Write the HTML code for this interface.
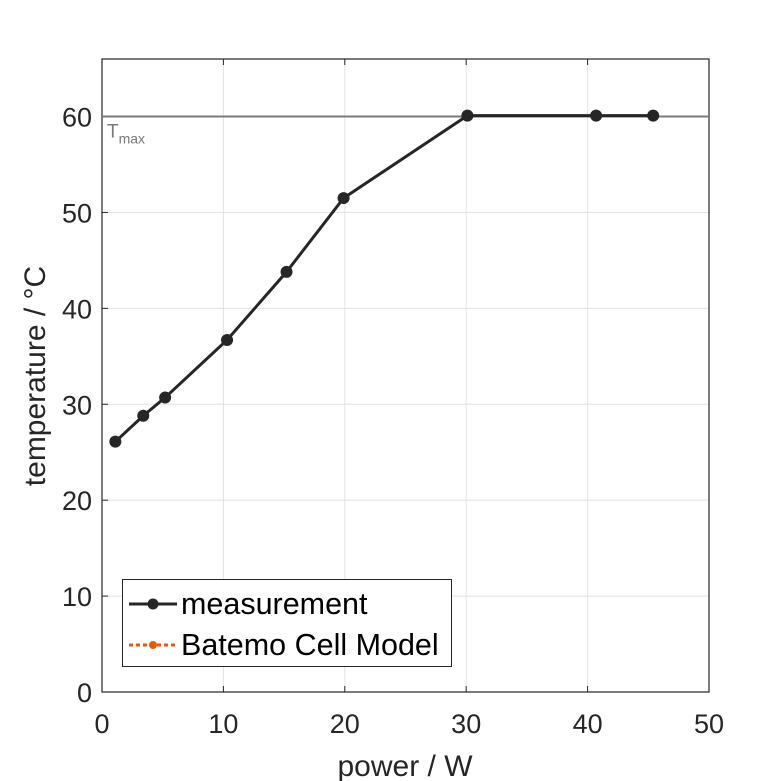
<!DOCTYPE html>
<html><head><meta charset="utf-8"><style>
body{margin:0;background:#fff}
svg{display:block;font-family:"Liberation Sans",sans-serif}
</style></head><body>
<svg id="chart" width="781" height="781" viewBox="0 0 781 781">
<g id="grid"></g>
<g id="axes"></g>
<g id="series"></g>
<text x="405" y="776" font-size="30" text-anchor="middle" fill="#262626">power / W</text>
<text transform="translate(45,376) rotate(-90)" font-size="30" text-anchor="middle" fill="#262626">temperature / °C</text>
<g>
<rect x="122.5" y="579.5" width="329" height="87" fill="#fff" stroke="#262626" stroke-width="1"/>
<line x1="129" y1="604" x2="177" y2="604" stroke="#262626" stroke-width="3"/>
<circle cx="153" cy="604" r="5.5" fill="#262626"/>
<text x="181" y="614" font-size="30.5" fill="#000">measurement</text>
<line x1="129" y1="645" x2="177" y2="645" stroke="#e8590c" stroke-width="3" stroke-dasharray="4,3"/>
<circle cx="153" cy="645" r="4" fill="#e8590c"/>
<text x="181" y="655" font-size="30.5" fill="#000">Batemo Cell Model</text>
</g>
</svg>
<script>
const xTicks=[0,10,20,30,40,50];
const yTicks=[0,10,20,30,40,50,60];
const powerW=[1.1,3.4,5.2,10.3,15.2,19.9,30.1,40.7,45.4];
const tempC=[26.1,28.8,30.7,36.7,43.8,51.5,60.1,60.1,60.1];
const tMax=60;
const L=102,R=709,T=59,B=692,X0=0,X1=50,Y0=0,Y1=66;
const sx=v=>L+(v-X0)/(X1-X0)*(R-L);
const sy=v=>B-(v-Y0)/(Y1-Y0)*(B-T);
const NS="http://www.w3.org/2000/svg";
function mk(tag,attrs,parent){const e=document.createElementNS(NS,tag);for(const k in attrs)e.setAttribute(k,attrs[k]);parent.appendChild(e);return e;}
const grid=document.getElementById('grid'),axes=document.getElementById('axes'),series=document.getElementById('series');
xTicks.forEach(t=>{
 const g=mk('line',{x1:sx(t),x2:sx(t),y1:T,y2:B,stroke:'#e3e3e3','stroke-width':1},grid);
 
 
 mk('line',{x1:sx(t),x2:sx(t),y1:B,y2:B-6,stroke:'#262626'},axes);
 mk('line',{x1:sx(t),x2:sx(t),y1:T,y2:T+6,stroke:'#262626'},axes);
 const tx=mk('text',{x:sx(t),y:B+41,'font-size':27,'text-anchor':'middle',fill:'#262626'},axes);
 tx.textContent=t;
 
 
});
yTicks.forEach(t=>{
 const g=mk('line',{x1:L,x2:R,y1:sy(t),y2:sy(t),stroke:'#e3e3e3','stroke-width':1},grid);
 
 
 mk('line',{x1:L,x2:L+6,y1:sy(t),y2:sy(t),stroke:'#262626'},axes);
 const tx=mk('text',{x:L-10,y:sy(t)+10,'font-size':27,'text-anchor':'end',fill:'#262626'},axes);
 tx.textContent=t;
 
 
});
const box=mk('rect',{x:L,y:T,width:R-L,height:B-T,fill:'none',stroke:'#262626','stroke-width':1.2},axes);


const tl=mk('line',{x1:L,x2:R,y1:sy(tMax),y2:sy(tMax),stroke:'#7a7a7a','stroke-width':2},series);


const tt=mk('text',{x:L+5,y:sy(tMax)+21,'font-size':19,fill:'#7a7a7a'},series);
tt.innerHTML='T<tspan font-size="14" dy="6">max</tspan>';


const pl=mk('polyline',{points:powerW.map((p,i)=>sx(p)+','+sy(tempC[i])).join(' '),fill:'none',stroke:'#262626','stroke-width':3},series);


powerW.forEach((p,i)=>{
 const c=mk('circle',{cx:sx(p),cy:sy(tempC[i]),r:6,fill:'#262626'},series);
 
 
});
</script>
</body></html>
